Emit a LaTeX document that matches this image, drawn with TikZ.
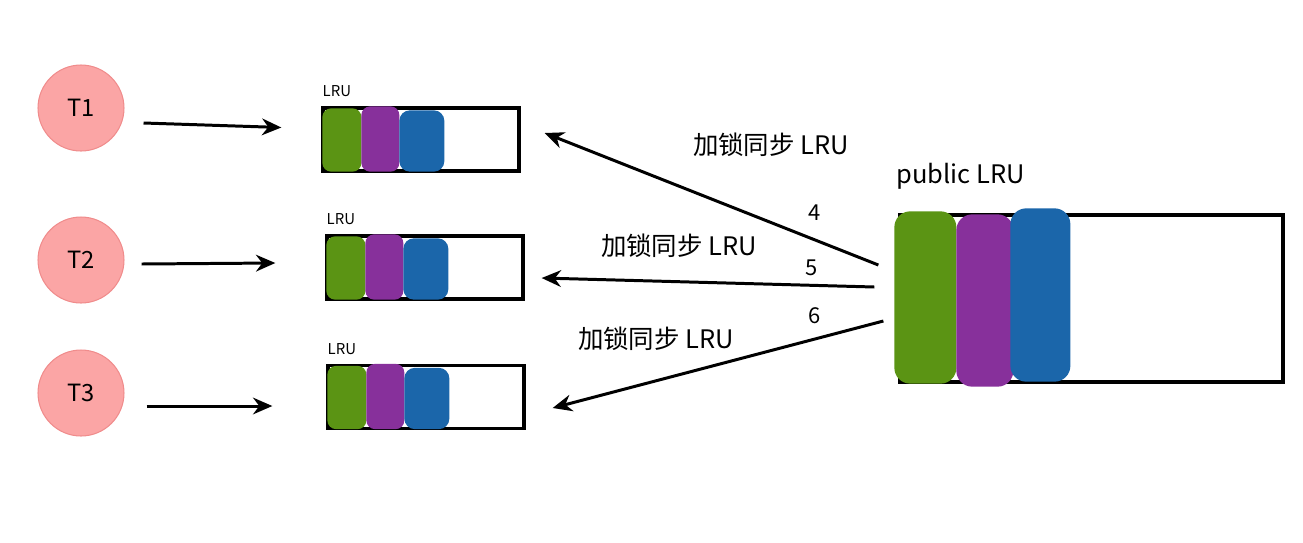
\documentclass[tikz,border=0pt]{standalone}
\usepackage{fontspec}
\setmainfont{Noto Sans CJK SC}
\usetikzlibrary{arrows.meta}

\definecolor{tpink}{HTML}{FBA5A5}
\definecolor{tpinkline}{HTML}{F08C8C}
\definecolor{lgreen}{HTML}{5B9414}
\definecolor{lpurple}{HTML}{87309B}
\definecolor{lblue}{HTML}{1B66AA}

\tikzset{
  thread/.style={circle, fill=tpink, draw=tpinkline, line width=0.6pt,
    minimum size=1.72cm, inner sep=0pt, font=\fontsize{13.5}{13.5}\selectfont},
  lrubox/.style={draw, line width=1.9pt, minimum width=3.92cm,
    minimum height=1.26cm, inner sep=0pt},
  lrutag/.style={font=\fontsize{8.5}{8.5}\selectfont, inner sep=0pt, anchor=south west},
  arr/.style={->, line width=1.7pt},
  synctext/.style={font=\fontsize{14.5}{14.5}\selectfont},
  stepno/.style={font=\fontsize{12.5}{12.5}\selectfont},
}

\begin{document}
\begin{tikzpicture}[x=0.02cm, y=-0.02cm, >={Stealth[length=11pt,width=9.5pt]}]
  \useasboundingbox (0,0) rectangle (1303,542);

  % threads
  \foreach \i/\ty in {1/108, 2/260, 3/393}
    \node[thread] (T\i) at (81,\ty) {T\i};

  % thread local LRU lists
  \foreach \i/\bx/\by in {1/421/139.5, 2/425/267.5, 3/426/397} {
    \node[lrubox] (L\i) at (\bx,\by) {};
    \fill[lgreen, rounded corners=5pt]
      ([shift={(1,2)}]L\i.north west) rectangle ([shift={(40,-1)}]L\i.south west);
    \fill[lpurple, rounded corners=5pt]
      ([shift={(40,0)}]L\i.north west) rectangle ([shift={(78,-1)}]L\i.south west);
    \fill[lblue, rounded corners=6pt]
      ([shift={(78,4)}]L\i.north west) rectangle ([shift={(123,-1)}]L\i.south west);
    \node[lrutag] (tag\i) at ([shift={(1,-9)}]L\i.north west) {LRU};
  }

  % thread -> local LRU
  \foreach \i/\sx/\sy/\ex/\ey in {1/19/15/-40/-12, 2/17/4/-50/-4.5, 3/22/13/-54/9}
    \draw[arr] ([shift={(\sx,\sy)}]T\i.east) -- ([shift={(\ex,\ey)}]L\i.west);

  % public LRU
  \node[lrubox, minimum width=7.66cm, minimum height=3.34cm] (pub) at (1091.5,298.5) {};
  \fill[lgreen, rounded corners=9pt]
    ([shift={(-4,-2)}]pub.north west) rectangle ([shift={(58,0)}]pub.south west);
  \fill[lpurple, rounded corners=9pt]
    ([shift={(58,1)}]pub.north west) rectangle ([shift={(115,3)}]pub.south west);
  \fill[lblue, rounded corners=9pt]
    ([shift={(112,-5)}]pub.north west) rectangle ([shift={(172,-2)}]pub.south west);
  \node[synctext, anchor=south west, inner sep=0pt] (pubtag)
    at ([shift={(-2,-24)}]pub.north west) {public LRU};

  % sync from public LRU
  \draw[arr] ([shift={(-20,-33.5)}]pub.west) -- ([shift={(24,-6.5)}]L1.east);
  \draw[arr] ([shift={(-24,-11.5)}]pub.west) -- ([shift={(17,10.5)}]L2.east);
  \draw[arr] ([shift={(-15,22.5)}]pub.west) -- ([shift={(27,11)}]L3.east);

  \node[synctext] (sync1) at (771,145) {加锁同步\ LRU};
  \node[synctext] (sync2) at (679,246) {加锁同步\ LRU};
  \node[synctext] (sync3) at (656,339) {加锁同步\ LRU};
  \node[stepno] (n4) at (815,213) {4};
  \node[stepno] (n5) at (812,268) {5};
  \node[stepno] (n6) at (815,316) {6};
\end{tikzpicture}
\end{document}
